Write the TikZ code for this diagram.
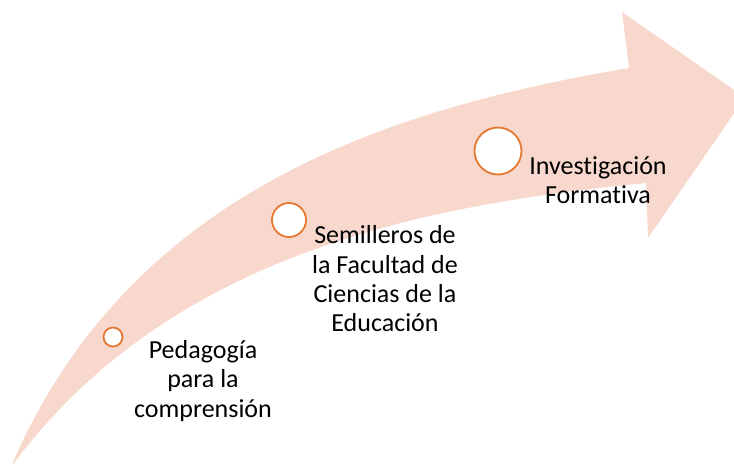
\documentclass[tikz,border=0pt]{standalone}
\usepackage{fontspec}
\setmainfont{Carlito}[Ligatures={NoCommon,NoRare,NoContextual}]
\definecolor{arrowfill}{RGB}{248,216,205}
\definecolor{ringcol}{RGB}{230,120,50}
\begin{document}
\begin{tikzpicture}[x=1pt,y=-1pt,
  ring/.style={circle,draw=ringcol,line width=1.8pt,fill=white,inner sep=0pt},
  label/.style={align=center,font=\fontsize{26}{29.3}\selectfont,text=black,inner sep=0pt}]
\useasboundingbox (0,0) rectangle (734,464);
\begin{scope}
\clip (0,0) rectangle (734,464);
\fill[arrowfill] (12,464) -- (13,462) .. controls (130,195) and (380,110) .. (629,68)
  -- (622,12) -- (745,97.5) -- (648,238) -- (646,183)
  .. controls (420,205) and (170,255) .. (14,463) -- cycle;
\end{scope}
\node[ring,minimum size=19pt] (c1) at (113,337) {};
\node[ring,minimum size=34pt] (c2) at (289,220) {};
\node[ring,minimum size=47pt] (c3) at (498,151) {};
\node[label] (t1) at (203,381) {Pedagogía\\para la\\comprensión};
\node[label] (t2) at (385,279) {Semilleros de\\la Facultad de\\Ciencias de la\\Educación};
\node[label] (t3) at (598,180) {Investigación\\Formativa};
\end{tikzpicture}
\end{document}
